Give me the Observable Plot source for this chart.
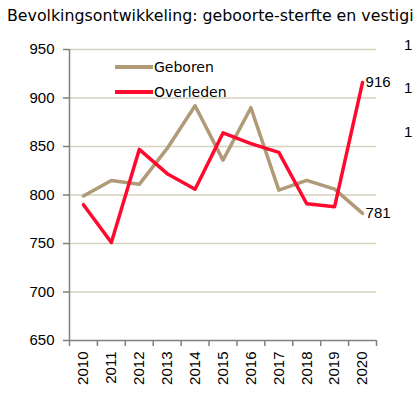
<!DOCTYPE html>
<html>
<head>
<meta charset="utf-8">
<script src="https://cdn.jsdelivr.net/npm/d3@7"></script>
<script src="https://cdn.jsdelivr.net/npm/@observablehq/plot@0.6"></script>
<style>
  html, body { margin: 0; padding: 0; background: #fff; }
  #wrap { position: relative; width: 415px; height: 417px; overflow: hidden; }
  #title { position: absolute; left: 7px; top: 6px; font-family: "DejaVu Sans", Verdana, sans-serif; font-size: 15.8px; white-space: nowrap; color: #000; line-height: 19px; }
  #chart { position: absolute; left: 0; top: 32px; }
  #legend { position: absolute; left: 115px; top: 55px; font-family: "DejaVu Sans", Verdana, sans-serif; font-size: 14px; color: #000; }
  .item { display: flex; align-items: center; height: 24.5px; }
  .sw { width: 38px; height: 4px; margin-right: 1px; }
  .frag { position: absolute; left: 404px; font-family: "Liberation Sans", Arial, sans-serif; font-size: 15px; color: #000; }
</style>
</head>
<body>
<div id="wrap">
  <div id="title">Bevolkingsontwikkeling: geboorte-sterfte en vestiging</div>
  <div id="chart"></div>
  <div id="legend"></div>
  <div class="frag" style="top:36px">1</div>
  <div class="frag" style="top:79px">1</div>
  <div class="frag" style="top:123px">1</div>
</div>
<script>
const years = [2010, 2011, 2012, 2013, 2014, 2015, 2016, 2017, 2018, 2019, 2020];
const geboren = [799, 815, 811, 848, 892, 836, 890, 805, 815, 806, 781];
const overleden = [790, 751, 847, 822, 806, 864, 853, 844, 791, 788, 916];
const yTicks = [650, 700, 750, 800, 850, 900, 950];
const seriesNames = ["Geboren", "Overleden"];
const seriesColors = ["#B09A78", "#FF0A2E"];

const dataG = years.map((year, i) => ({year, value: geboren[i]}));
const dataO = years.map((year, i) => ({year, value: overleden[i]}));
const boundaries = [years[0] - 0.5, ...years.map(y => y + 0.5)];

const chart = Plot.plot({
  width: 415,
  height: 385,
  marginLeft: 69,
  marginRight: 39,
  marginTop: 17,
  marginBottom: 77,
  x: {type: "linear", domain: [years[0] - 0.5, years[years.length - 1] + 0.5]},
  y: {domain: [yTicks[0], yTicks[yTicks.length - 1]]},
  style: {fontFamily: "Liberation Sans, Arial, sans-serif", fontSize: "15px", color: "#000", background: "transparent", overflow: "visible"},
  marks: [
    Plot.ruleY(yTicks.slice(1), {stroke: "#D6D2BE", strokeWidth: 1.3}),
    Plot.ruleY([yTicks[0]], {stroke: "#808080", strokeWidth: 1.5}),
    Plot.ruleX([boundaries[0]], {stroke: "#808080", strokeWidth: 1.5}),
    Plot.axisY({ticks: yTicks, tickSize: 6, tickPadding: 9, tickFormat: d => String(d), label: null, stroke: "#808080", strokeWidth: 1.5, fill: "#000"}),
    Plot.axisX({ticks: boundaries, tickSize: 6, tickFormat: () => "", label: null, stroke: "#808080", strokeWidth: 1.5}),
    Plot.axisX({ticks: years, tickSize: 0, tickPadding: 11, tickRotate: -90, tickFormat: d => String(d), label: null, fill: "#000"}),
    Plot.line(dataG, {x: "year", y: "value", stroke: seriesColors[0], strokeWidth: 3.5}),
    Plot.line(dataO, {x: "year", y: "value", stroke: seriesColors[1], strokeWidth: 3.5}),
    Plot.text([dataG[dataG.length - 1], dataO[dataO.length - 1]], {x: "year", y: "value", text: d => String(d.value), textAnchor: "start", dx: 3, fill: "#000"})
  ]
});
document.getElementById("chart").appendChild(chart);

const legend = document.getElementById("legend");
seriesNames.forEach((name, i) => {
  const it = document.createElement("div");
  it.className = "item";
  const sw = document.createElement("div");
  sw.className = "sw";
  sw.style.background = seriesColors[i];
  const t = document.createElement("span");
  t.textContent = name;
  it.appendChild(sw);
  it.appendChild(t);
  legend.appendChild(it);
});
</script>
</body>
</html>
